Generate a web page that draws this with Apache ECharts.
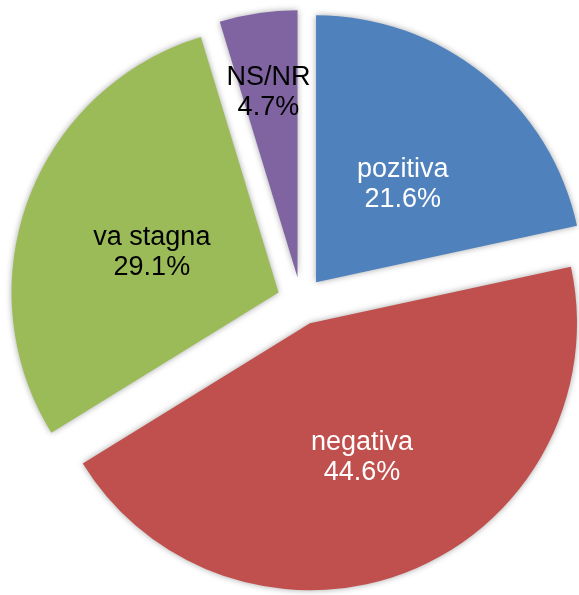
<!DOCTYPE html>
<html>
<head>
<meta charset="utf-8">
<script src="https://cdn.jsdelivr.net/npm/echarts@6/dist/echarts.min.js"></script>
<style>
html,body{margin:0;padding:0;background:#fff;}
#chart{width:579px;height:595px;}
</style>
</head>
<body>
<div id="chart"></div>
<script>
const categories = ['pozitiva', 'negativa', 'va stagna', 'NS/NR'];
const values = [21.6, 44.6, 29.1, 4.7];
const colors = ['#4F81BD', '#C0504D', '#9BBB59', '#8064A2'];
const labelColors = ['#ffffff', '#ffffff', '#000000', '#000000'];

const chart = echarts.init(document.getElementById('chart'));
const data = categories.map((c, i) => ({
  name: c,
  value: values[i],
  selected: true,
  itemStyle: { color: colors[i] },
  label: { color: labelColors[i] }
}));

chart.setOption({
  animation: false,
  series: [{
    type: 'pie',
    center: [301, 301],
    radius: [0, 267],
    startAngle: 90,
    clockwise: true,
    selectedMode: 'multiple',
    selectedOffset: 24,
    emphasis: { disabled: true },
    itemStyle: {
      borderWidth: 0,
      shadowBlur: 6,
      shadowColor: 'rgba(0,0,0,0.35)'
    },
    label: {
      show: true,
      position: 'inside',
      fontFamily: 'Liberation Sans, Arial, sans-serif',
      fontSize: 27,
      lineHeight: 30,
      align: 'center',
      formatter: p => p.name + '\n' + p.value.toFixed(1) + '%'
    },
    labelLine: { show: false },
    labelLayout: function (params) {
      if (params.dataIndex === 3) return { dx: -9, dy: -50 };
      return { dx: 1, dy: 8 };
    },
    data: data
  }]
});
</script>
</body>
</html>
